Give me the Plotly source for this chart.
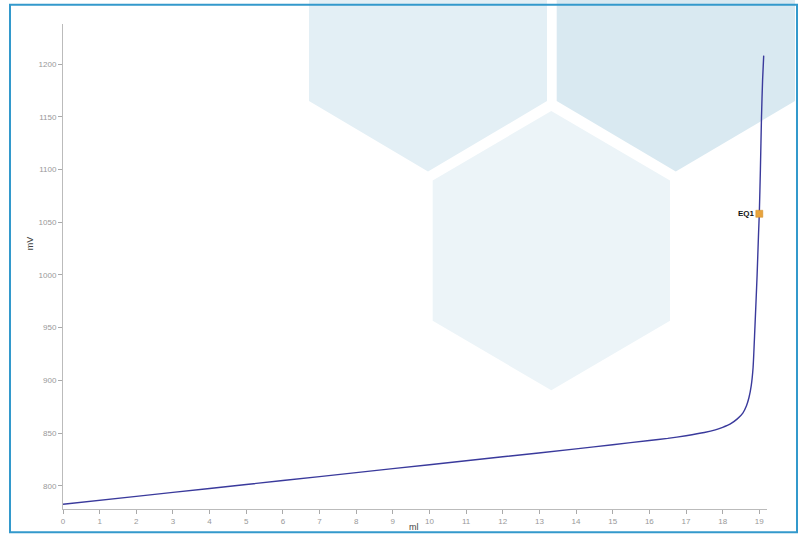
import plotly.graph_objects as go

# ---- data ----
ml = [0.0, 2.0, 4.0, 6.0, 8.0, 10.0, 12.0, 14.0, 15.0, 16.0, 16.5, 17.0, 17.5,
      17.8, 18.0, 18.2, 18.4, 18.55, 18.65, 18.72, 18.78, 18.83, 18.88, 18.94,
      18.98, 19.00, 19.03, 19.06, 19.09, 19.12]
mV = [782.5, 790.0, 797.5, 805.0, 812.5, 820.0, 827.5, 835.0, 839.0, 843.0, 845.0,
      847.5, 850.5, 853.0, 855.5, 858.5, 863.5, 869.0, 876.0, 884.0, 895.0, 912.0,
      950.0, 1000.0, 1040.0, 1058.0, 1100.0, 1150.0, 1185.0, 1208.0]
eq_label = ["EQ1"]
eq_ml = [19.0]
eq_mV = [1058.0]

x_ticks = list(range(0, 20))
y_ticks = [800, 850, 900, 950, 1000, 1050, 1100, 1150, 1200]

W, H = 804, 538
ML, MR, MT, MB = 63, 37, 24, 25
PW, PH = W - ML - MR, H - MT - MB


def px(x, y):
    return (x - ML) / PW, (H - MB - y) / PH


def path(points):
    pts = [px(x, y) for x, y in points]
    return "M " + " L ".join(f"{a:.5f},{b:.5f}" for a, b in pts) + " Z"


hexes = [
    ([(428, -110), (547, -40), (547, 101.7), (428, 172.7), (309, 101.7), (309, -40)], "#e3eff5"),
    ([(675.8, -110), (795, -40), (795, 101.7), (675.8, 172.7), (556.7, 101.7), (556.7, -40)], "#d9e9f1"),
    ([(551.3, 111.7), (670, 181.7), (670, 323.3), (551.3, 393.3), (432.7, 323.3), (432.7, 181.7)], "#ecf4f8"),
]

shapes = []
for pts, col in hexes:
    shapes.append(dict(type="path", xref="paper", yref="paper", path=path(pts),
                       fillcolor=col, line=dict(width=0), layer="below"))

bx0, by0 = px(10, 536.5)
bx1, by1 = px(797, 4.5)
shapes.append(dict(type="rect", xref="paper", yref="paper", x0=bx0, y0=by0, x1=bx1, y1=by1,
                   line=dict(color="#3399cc", width=2), fillcolor="rgba(0,0,0,0)", layer="above"))

fig = go.Figure()
fig.add_trace(go.Scatter(x=ml, y=mV, mode="lines",
                         line=dict(color="#3a3a9c", width=1.4, shape="spline", smoothing=0.6),
                         hoverinfo="skip", showlegend=False))
fig.add_trace(go.Scatter(x=eq_ml, y=eq_mV, mode="markers+text", text=eq_label,
                         texttemplate="<b>%{text}</b>",
                         textposition="middle left",
                         textfont=dict(family="Liberation Sans", size=8, color="#111111"),
                         marker=dict(symbol="square", size=7, color="#e8a33d",
                                     line=dict(color="#d08a20", width=0.5)),
                         showlegend=False))

tx, ty = px(30, 245)
ax_, ay_ = px(414, 531)
annotations = [
    dict(text="mV", xref="paper", yref="paper", x=tx, y=ty, showarrow=False, textangle=-90,
         font=dict(family="Liberation Sans", size=9, color="#444444"), xanchor="center", yanchor="middle"),
    dict(text="ml", xref="paper", yref="paper", x=ax_, y=ay_, showarrow=False,
         font=dict(family="Liberation Sans", size=9, color="#444444"), xanchor="center", yanchor="middle"),
]

fig.update_layout(
    width=W, height=H,
    margin=dict(l=ML, r=MR, t=MT, b=MB, pad=0),
    paper_bgcolor="white", plot_bgcolor="rgba(0,0,0,0)",
    shapes=shapes, annotations=annotations,
    font=dict(family="Liberation Sans", size=8, color="#999999"),
    xaxis=dict(range=[0, 19.21], tickvals=x_ticks, ticktext=[str(v) for v in x_ticks],
               showgrid=False, zeroline=False, showline=True, linecolor="#bbbbbb", linewidth=1,
               ticks="outside", ticklen=4, tickcolor="#aaaaaa",
               tickfont=dict(size=8, color="#999999")),
    yaxis=dict(range=[778, 1238], tickvals=y_ticks, ticktext=[str(v) for v in y_ticks],
               showgrid=False, zeroline=False, showline=True, linecolor="#bbbbbb", linewidth=1,
               ticks="outside", ticklen=4, tickcolor="#aaaaaa",
               tickfont=dict(size=8, color="#999999")),
)

fig.write_html("out.html",
               config={"displayModeBar": False},
               post_script="document.body.style.margin='0';document.body.style.padding='0';"
                           "document.body.style.overflow='hidden';")
